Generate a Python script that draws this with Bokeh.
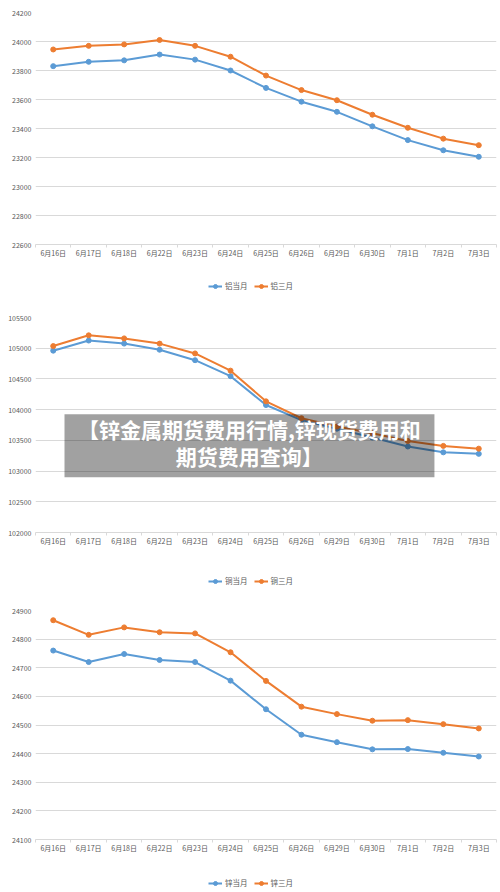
import numpy as np
from bokeh.plotting import figure
from bokeh.models import (LinearAxis, FixedTicker, SingleIntervalTicker, BasicTickFormatter,
                          Legend, LegendItem, BoxAnnotation, Label)
from bokeh.layouts import column
from bokeh.embed import file_html
from bokeh.resources import INLINE

# ---------------- data ----------------
dates = ["6月16日", "6月17日", "6月18日", "6月22日", "6月23日", "6月24日", "6月25日",
         "6月26日", "6月29日", "6月30日", "7月1日", "7月2日", "7月3日"]

al_spot = [23830, 23860, 23870, 23910, 23875, 23800, 23680, 23585, 23515, 23415, 23320, 23250, 23205]
al_3m = [23945, 23970, 23980, 24010, 23970, 23895, 23765, 23665, 23595, 23495, 23405, 23330, 23285]

cu_spot = [104960, 105125, 105075, 104975, 104805, 104545, 104075, 103830, 103690, 103545, 103400, 103305, 103280]
cu_3m = [105035, 105210, 105160, 105075, 104915, 104635, 104135, 103860, 103725, 103615, 103490, 103410, 103365]

zn_spot = [24760, 24720, 24748, 24727, 24720, 24655, 24555, 24466, 24440, 24415, 24416, 24403, 24390]
zn_3m = [24866, 24815, 24841, 24824, 24820, 24754, 24654, 24564, 24538, 24515, 24517, 24503, 24488]

al_names = ["铝当月", "铝三月"]
cu_names = ["铜当月", "铜三月"]
zn_names = ["锌当月", "锌三月"]

title_lines = ["【锌金属期货费用行情,锌现货费用和", "期货费用查询】"]

# ---------------- style ----------------
FONT = "Noto Sans CJK SC"
BLUE = "#5b9bd5"
ORANGE = "#ed7d31"
GRID = "#d9d9d9"
TXT = "#595959"
LEFT, RIGHT = 35, 4


def make_chart(spot, fut, y0, y1, step, height, top, bottom):
    p = figure(width=500, height=height, x_range=dates, y_range=(y0, y1),
               x_axis_type=None, output_backend="svg", toolbar_location=None,
               min_border_top=top, min_border_bottom=bottom,
               min_border_left=LEFT, min_border_right=RIGHT)
    p.outline_line_color = None
    p.background_fill_color = "white"
    p.border_fill_color = "white"

    yt = SingleIntervalTicker(interval=step, num_minor_ticks=0)
    p.yaxis.ticker = yt
    p.ygrid.ticker = yt
    p.yaxis.formatter = BasicTickFormatter(use_scientific=False)
    p.yaxis.axis_line_color = None
    p.yaxis.major_tick_line_color = None
    p.yaxis.minor_tick_line_color = None
    p.yaxis.major_tick_out = 0
    p.yaxis.minor_tick_out = 0
    p.yaxis.major_label_text_font = FONT
    p.yaxis.major_label_text_font_size = "7px"
    p.yaxis.major_label_text_color = TXT
    p.yaxis.major_label_standoff = 4
    p.ygrid.grid_line_color = GRID
    p.ygrid.grid_line_width = 1

    n = len(dates)
    centers = [i + 0.5 for i in range(n)]
    xax = LinearAxis(ticker=FixedTicker(ticks=centers, minor_ticks=list(range(n + 1))),
                     major_label_overrides={c: d for c, d in zip(centers, dates)})
    xax.axis_line_color = GRID
    xax.major_tick_line_color = None
    xax.major_tick_out = 0
    xax.major_tick_in = 0
    xax.minor_tick_line_color = GRID
    xax.minor_tick_out = 3
    xax.minor_tick_in = 0
    xax.major_label_standoff = 0
    xax.major_label_text_font = FONT
    xax.major_label_text_font_size = "7px"
    xax.major_label_text_color = TXT
    p.add_layout(xax, "below")

    p.line(dates, spot, line_color=BLUE, line_width=2)
    p.scatter(dates, spot, size=5, fill_color=BLUE, line_color=BLUE)
    p.line(dates, fut, line_color=ORANGE, line_width=2)
    p.scatter(dates, fut, size=5, fill_color=ORANGE, line_color=ORANGE)
    return p


def make_legend(names, height, dy):
    q = figure(width=500, height=height, x_range=(0, 1), y_range=(0, 1),
               x_axis_type=None, y_axis_type=None, output_backend="svg",
               toolbar_location=None, min_border=0, min_border_left=LEFT,
               min_border_right=RIGHT, min_border_top=0, min_border_bottom=0)
    q.outline_line_color = None
    q.background_fill_color = "white"
    q.border_fill_color = "white"
    # legend keys only: a single missing (NaN) value, so nothing is drawn in the plot
    nan = np.array([np.nan])
    l1 = q.line(x=nan, y=nan, line_color=BLUE, line_width=2)
    s1 = q.scatter(x=nan, y=nan, size=5, fill_color=BLUE, line_color=BLUE)
    l2 = q.line(x=nan, y=nan, line_color=ORANGE, line_width=2)
    s2 = q.scatter(x=nan, y=nan, size=5, fill_color=ORANGE, line_color=ORANGE)
    legend = Legend(items=[LegendItem(label=names[0], renderers=[l1, s1]),
                           LegendItem(label=names[1], renderers=[l2, s2])],
                    location=(250 - LEFT - 42, dy), orientation="horizontal",
                    border_line_color=None, background_fill_alpha=0,
                    label_text_font=FONT, label_text_font_size="7.5px",
                    label_text_color=TXT, glyph_width=14, glyph_height=10,
                    label_height=10, label_standoff=3, spacing=6,
                    padding=0, margin=0)
    q.add_layout(legend)
    return q


p1 = make_chart(al_spot, al_3m, 22600, 24200, 200, 276, 12, 32)
g1 = make_legend(al_names, 21, 6)
p2 = make_chart(cu_spot, cu_3m, 102000, 105500, 500, 276, 20, 41)
g2 = make_legend(cu_names, 21, 8)
p3 = make_chart(zn_spot, zn_3m, 24100, 24900, 100, 280, 16, 35)
g3 = make_legend(zn_names, 18, 4)

# overlay banner on the middle chart
banner = BoxAnnotation(left=0.818, right=11.25, top=103924, bottom=102901,
                       fill_color="black", fill_alpha=0.37, line_color=None)
p2.add_layout(banner)
p2.add_layout(Label(x=6.03, y=103684, text=title_lines[0], text_align="center",
                    text_baseline="middle", text_color="white", text_font=FONT,
                    text_font_style="bold", text_font_size="21px"))
p2.add_layout(Label(x=6.03, y=103251, text=title_lines[1], text_align="center",
                    text_baseline="middle", text_color="white", text_font=FONT,
                    text_font_style="bold", text_font_size="21px"))

layout = column(p1, g1, p2, g2, p3, g3, spacing=0)

with open("out.html", "w") as f:
    f.write(file_html(layout, INLINE))
